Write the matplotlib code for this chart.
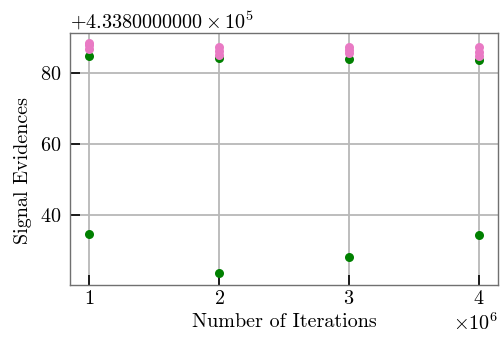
import math
import matplotlib
matplotlib.use("Agg")
import matplotlib.pyplot as plt
from matplotlib.ticker import ScalarFormatter

plt.rcParams.update({
    "font.family": "serif",
    "font.serif": ["cmr10"],
    "mathtext.fontset": "cm",
    "axes.formatter.use_mathtext": True,
    "axes.unicode_minus": False,
    "font.size": 14.5,
})


class LongOffsetFormatter(ScalarFormatter):
    """Scalar formatter whose offset shows a ten-digit significand."""

    def format_data(self, value):
        e = math.floor(math.log10(abs(value)))
        s = round(value / 10 ** e, 10)
        sig = "%d" % s if s % 1 == 0 else "%1.10f" % s
        if e == 0:
            return sig
        return r"%s\times10^{%d}" % (sig, e)


# Evidence offset shared by all runs
base = 433800.0

iterations = [1e6, 2e6, 3e6, 4e6]

# Background (green) evidences: one high and one low value per iteration count
green_high = [84.8, 84.4, 84.1, 83.6]
green_low = [34.8, 23.6, 28.3, 34.4]

# Signal (pink) evidences: several runs per iteration count
pink_a = [88.6, 87.3, 87.3, 87.4]
pink_b = [86.9, 85.0, 85.6, 84.8]
pink_c = [87.8, 86.2, 86.5, 86.0]

fig = plt.figure(figsize=(5.0, 3.37), dpi=100)
ax = fig.add_axes([0.14, 0.154, 0.856, 0.748])

ax.grid(True, color="#b8b8b8", linewidth=1.3, zorder=0)
ax.set_axisbelow(True)

ms = 6.5
for series in (green_high, green_low):
    ax.plot(iterations, [base + v for v in series], "o", color="green",
            ms=ms, mec="none", zorder=3)
for series in (pink_b, pink_c, pink_a):
    ax.plot(iterations, [base + v for v in series], "o", color="#e97ac4",
            ms=ms, mec="none", zorder=4)

ax.yaxis.set_major_formatter(LongOffsetFormatter(useMathText=True))

ax.set_xticks(iterations)
ax.set_yticks([base + 40, base + 60, base + 80])
ax.set_xlim(0.85e6, 4.15e6)
ax.set_ylim(base + 20.3, base + 91.3)

ax.tick_params(direction="in", length=7, width=1.2, color="black",
               top=False, right=False)
ax.tick_params(axis="y", pad=6)
for s in ax.spines.values():
    s.set_color("#707070")
    s.set_linewidth(1.0)

ax.set_xlabel("Number of Iterations")
ax.set_ylabel("Signal Evidences")
ax.yaxis.set_label_coords(-0.088, 0.456)

fig.savefig("out.png", dpi=100)
